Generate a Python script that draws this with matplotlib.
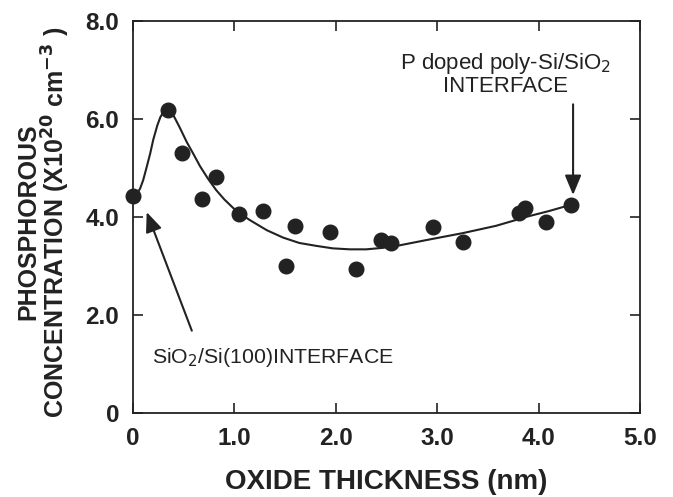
import matplotlib
matplotlib.use("Agg")
import matplotlib.pyplot as plt

# measured points (oxide thickness nm, P concentration x1e20 cm^-3)
thickness = [0.0, 0.35, 0.48, 0.68, 0.82, 1.05, 1.28, 1.51, 1.60, 1.94,
             2.20, 2.45, 2.54, 2.96, 3.25, 3.81, 3.87, 4.07, 4.32]
concentration = [4.43, 6.18, 5.31, 4.37, 4.82, 4.06, 4.12, 3.01, 3.82, 3.70,
                 2.93, 3.53, 3.46, 3.79, 3.50, 4.08, 4.18, 3.90, 4.24]

# fitted curve
curve_x = [0.0, 0.04, 0.07, 0.10, 0.13, 0.17, 0.20, 0.24, 0.27, 0.30, 0.33,
           0.36, 0.40, 0.46, 0.53, 0.60, 0.66, 0.74, 0.82, 0.90, 0.99, 1.07,
           1.15, 1.32, 1.48, 1.64, 1.81, 1.97, 2.14, 2.30, 2.46, 2.60, 2.92,
           3.25, 3.58, 3.91, 4.10, 4.32]
curve_y = [4.43, 4.48, 4.58, 4.75, 4.98, 5.30, 5.58, 5.87, 6.04, 6.14, 6.18,
           6.16, 6.07, 5.83, 5.53, 5.27, 5.04, 4.78, 4.55, 4.36, 4.18, 4.05,
           3.94, 3.73, 3.58, 3.47, 3.41, 3.36, 3.34, 3.34, 3.37, 3.41, 3.54,
           3.67, 3.82, 4.02, 4.12, 4.25]

x_ticks = [0, 1.0, 2.0, 3.0, 4.0, 5.0]
x_tick_labels = ["0", "1.0", "2.0", "3.0", "4.0", "5.0"]
y_ticks = [0, 2.0, 4.0, 6.0, 8.0]
y_tick_labels = ["0", "2.0", "4.0", "6.0", "8.0"]

plt.rcParams['font.family'] = ['Liberation Sans', 'DejaVu Sans']
ink = "#222222"

fig = plt.figure(figsize=(6.73, 4.97), dpi=100)
ax = fig.add_axes([133/673, 1-413/497, (640-133)/673, (413-21)/497])

ax.plot(curve_x, curve_y, color=ink, lw=1.5, zorder=2)
ax.plot(thickness, concentration, 'o', color=ink, ms=10.5, clip_on=False, zorder=3)

ax.set_xlim(0, 5.0)
ax.set_ylim(0, 8.0)
ax.set_xticks(x_ticks)
ax.set_xticklabels(x_tick_labels)
ax.set_yticks(y_ticks)
ax.set_yticklabels(y_tick_labels)
for s in ax.spines.values():
    s.set_linewidth(1.3)
    s.set_color(ink)
ax.tick_params(direction='in', length=7, width=1.2, colors=ink,
               top=True, right=True, labelsize=17.5, pad=10)
for lab in ax.get_xticklabels() + ax.get_yticklabels():
    lab.set_fontweight('bold')

fig.text(386/673, 1-482/497, "OXIDE THICKNESS (nm)", ha='center', va='center',
         fontsize=20, fontweight='bold', color=ink)
fig.text(44/673, 1-222/497,
         "PHOSPHOROUS\nCONCENTRATION (X10$^{\\mathbf{20}}$ cm$^{\\mathbf{-3}}$ )",
         rotation=90, ha='center', va='center', multialignment='center',
         fontsize=18, fontweight='bold', color=ink, linespacing=1.0)

ax.text(3.67, 6.92, "P doped poly-Si/SiO$_2$\nINTERFACE", ha='center', va='center',
        fontsize=16, color=ink, linespacing=1.05)
ax.text(1.38, 1.14, "SiO$_2$/Si(100)INTERFACE", ha='center', va='center',
        fontsize=15.3, color=ink)

ap = dict(arrowstyle="-|>,head_length=0.6,head_width=0.25", mutation_scale=20,
          color=ink, lw=1.5, shrinkA=0, shrinkB=0)
ax.annotate("", xy=(0.135, 4.1), xytext=(0.58, 1.68), arrowprops=ap)
ax.annotate("", xy=(4.34, 4.45), xytext=(4.34, 6.30), arrowprops=ap)

fig.savefig("out.png", dpi=100)
